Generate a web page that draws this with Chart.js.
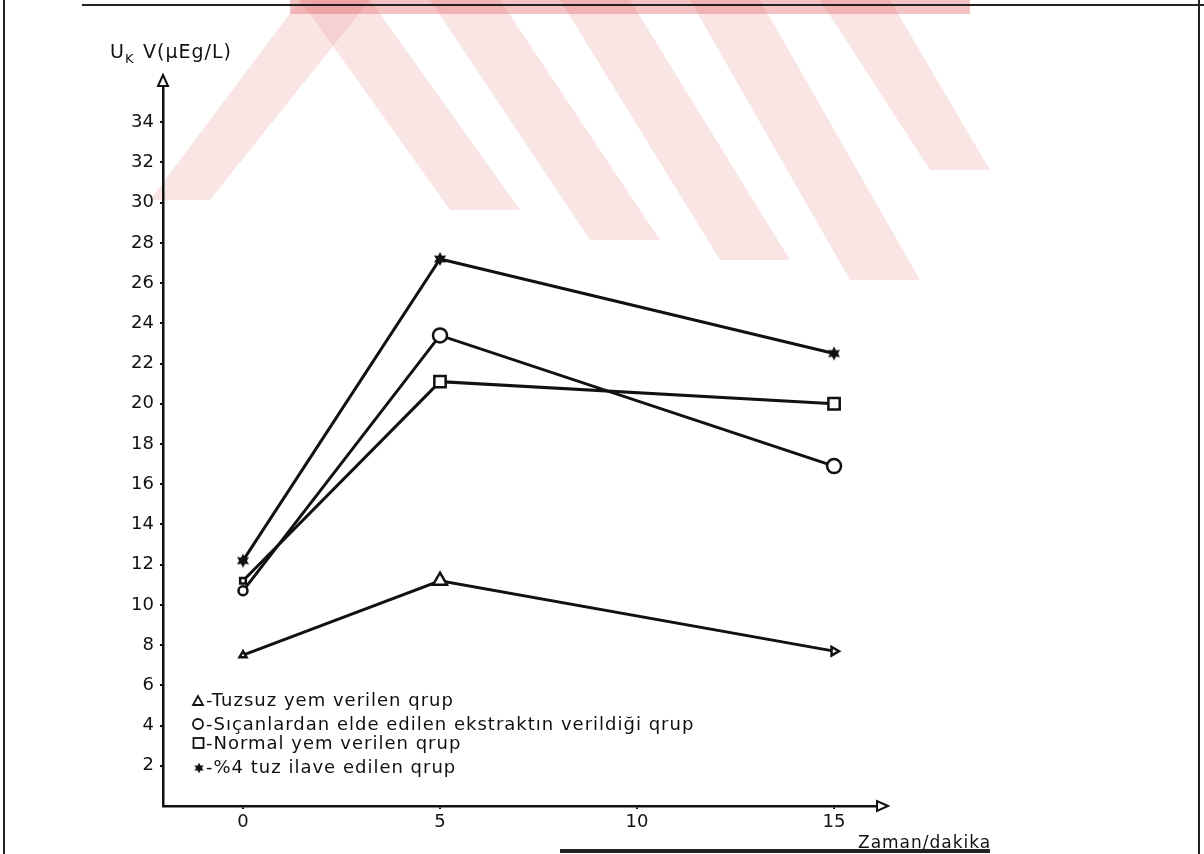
<!DOCTYPE html>
<html>
<head>
<meta charset="utf-8">
<script src="https://cdn.jsdelivr.net/npm/chart.js@4/dist/chart.umd.min.js"></script>
<style>
    html, body { margin: 0; padding: 0; background: #fff; }
    #wrap { width: 1204px; height: 854px; position: relative; }
</style>
</head>
<body>
<div id="wrap"><canvas id="chart"></canvas></div>
<script>
// Dati
const xValues = [0, 5, 15];
const tuzsuz = [7.5, 11.2, 7.7];
const sicanlar = [10.7, 23.4, 16.9];
const normal = [11.2, 21.1, 20.0];
const tuzIlave = [12.2, 27.2, 22.5];
const yTicks = [2, 4, 6, 8, 10, 12, 14, 16, 18, 20, 22, 24, 26, 28, 30, 32, 34];
const xTicks = [0, 5, 10, 15];
const legendTexts = [
    '-Tuzsuz yem verilen qrup',
    '-Sıçanlardan elde edilen ekstraktın verildiği qrup',
    '-Normal yem verilen qrup',
    '-%4 tuz ilave edilen qrup'
];
const yTitle = 'V(μEg/L)';
const xTitle = 'Zaman/dakika';

const FONT = 'DejaVu Sans';

// Stella piena a sei punte
function makeStar(r) {
    const c = document.createElement('canvas');
    c.width = c.height = r * 2 + 2;
    const g = c.getContext('2d');
    g.fillStyle = '#111';
    g.beginPath();
    for (let i = 0; i < 12; i++) {
        const a = -Math.PI / 2 + i * Math.PI / 6;
        const rr = i % 2 === 0 ? r : r * 0.55;
        g.lineTo(r + 1 + rr * Math.cos(a), r + 1 + rr * Math.sin(a));
    }
    g.closePath();
    g.fill();
    return c;
}
const starImg = makeStar(7);

function toPoints(arr) {
    return xValues.map((x, i) => ({ x: x, y: arr[i] }));
}

// Filigrana, cornice, assi, legenda
const decorPlugin = {
    id: 'decor',
    beforeDraw(chart) {
        const ctx = chart.ctx;
        ctx.save();
        ctx.fillStyle = '#fff';
        ctx.fillRect(0, 0, chart.width, chart.height);
        // filigrana rosa
        ctx.fillStyle = 'rgba(236, 150, 150, 0.25)';
        const stripes = [
            [[300, 0], [370, 0], [210, 200], [150, 200]],
            [[300, 0], [370, 0], [520, 210], [450, 210]],
            [[430, 0], [500, 0], [660, 240], [590, 240]],
            [[560, 0], [630, 0], [790, 260], [720, 260]],
            [[690, 0], [760, 0], [920, 280], [850, 280]],
            [[820, 0], [890, 0], [990, 170], [930, 170]]
        ];
        stripes.forEach(p => {
            ctx.beginPath();
            p.forEach((q, i) => i ? ctx.lineTo(q[0], q[1]) : ctx.moveTo(q[0], q[1]));
            ctx.closePath();
            ctx.fill();
        });
        ctx.fillStyle = 'rgba(220, 60, 60, 0.3)';
        ctx.fillRect(290, 0, 680, 14);
        // cornice della scansione
        ctx.strokeStyle = '#222';
        ctx.lineWidth = 2;
        ctx.beginPath();
        ctx.moveTo(4, 0); ctx.lineTo(4, 854);
        ctx.moveTo(1199, 0); ctx.lineTo(1199, 854);
        ctx.moveTo(82, 5); ctx.lineTo(1204, 5);
        ctx.stroke();
        ctx.lineWidth = 4;
        ctx.beginPath();
        ctx.moveTo(560, 851); ctx.lineTo(990, 851);
        ctx.stroke();
        ctx.restore();
    },
    afterDraw(chart) {
        const ctx = chart.ctx;
        const a = chart.chartArea;
        ctx.save();
        ctx.strokeStyle = '#111';
        ctx.fillStyle = '#fff';
        ctx.lineWidth = 2;
        // freccia asse y
        ctx.beginPath();
        ctx.moveTo(a.left, a.top - 11);
        ctx.lineTo(a.left - 5, a.top);
        ctx.lineTo(a.left + 5, a.top);
        ctx.closePath();
        ctx.fill(); ctx.stroke();
        // freccia asse x
        ctx.beginPath();
        ctx.moveTo(a.right + 11, a.bottom);
        ctx.lineTo(a.right, a.bottom - 5);
        ctx.lineTo(a.right, a.bottom + 5);
        ctx.closePath();
        ctx.fill(); ctx.stroke();

        // titoli assi
        ctx.fillStyle = '#111';
        ctx.textBaseline = 'alphabetic';
        ctx.letterSpacing = '1px';
        ctx.font = '19px ' + FONT;
        ctx.fillText('U', 110, 58);
        ctx.font = '13px ' + FONT;
        ctx.fillText('K', 125, 63);
        ctx.font = '19px ' + FONT;
        ctx.fillText(yTitle, 143, 58);
        ctx.font = '17px ' + FONT;
        ctx.fillText(xTitle, 858, 848);

        // legenda
        const lx = 193;
        const ly = [706, 730, 749, 773];
        ctx.font = '18px ' + FONT;
        ctx.lineWidth = 1.8;
        ctx.strokeStyle = '#111';
        // triangolo
        ctx.beginPath();
        ctx.moveTo(lx + 5, ly[0] - 10); ctx.lineTo(lx, ly[0] - 1); ctx.lineTo(lx + 10, ly[0] - 1);
        ctx.closePath(); ctx.stroke();
        // cerchio
        ctx.beginPath();
        ctx.arc(lx + 5, ly[1] - 6, 5, 0, Math.PI * 2); ctx.stroke();
        // quadrato
        ctx.strokeRect(lx + 0.5, ly[2] - 11, 10, 10);
        // stella
        ctx.drawImage(starImg, lx, ly[3] - 11, 12, 12);
        legendTexts.forEach((t, i) => ctx.fillText(t, lx + 13, ly[i]));
        ctx.restore();
    }
};

const pointCommon = {
    borderColor: '#111',
    backgroundColor: '#fff',
    borderWidth: 3,
    pointBorderWidth: 2.5,
    pointBackgroundColor: '#fff',
    pointBorderColor: '#111',
    tension: 0
};

new Chart(document.getElementById('chart'), {
    type: 'line',
    data: {
        datasets: [
            Object.assign({}, pointCommon, {
                label: legendTexts[0],
                data: toPoints(tuzsuz),
                pointStyle: 'triangle',
                pointRadius: [4, 8, 5],
                pointRotation: [0, 0, 90]
            }),
            Object.assign({}, pointCommon, {
                label: legendTexts[1],
                data: toPoints(sicanlar),
                pointStyle: 'circle',
                pointRadius: [4.5, 7, 7]
            }),
            Object.assign({}, pointCommon, {
                label: legendTexts[2],
                data: toPoints(normal),
                pointStyle: 'rect',
                pointRadius: [4, 8, 8]
            }),
            Object.assign({}, pointCommon, {
                label: legendTexts[3],
                data: toPoints(tuzIlave),
                pointStyle: starImg,
                pointRadius: 7
            })
        ]
    },
    options: {
        responsive: true,
        maintainAspectRatio: false,
        animation: false,
        layout: { padding: { top: 86, right: 327, bottom: 0, left: 0 } },
        plugins: {
            legend: { display: false },
            tooltip: { enabled: false }
        },
        scales: {
            x: {
                type: 'linear',
                min: -2.03,
                max: 16.09,
                afterBuildTicks: (s) => { s.ticks = xTicks.map(v => ({ value: v })); },
                afterFit: (s) => { s.height = 48; },
                grid: { drawOnChartArea: false, drawTicks: true, tickLength: 3, color: '#111', lineWidth: 2 },
                border: { color: '#111', width: 2.5 },
                ticks: { color: '#111', padding: 3, font: { family: FONT, size: 18 } }
            },
            y: {
                min: 0,
                max: 35.8,
                afterBuildTicks: (s) => { s.ticks = yTicks.map(v => ({ value: v })); },
                afterFit: (s) => { s.width = 163; },
                grid: { drawOnChartArea: false, drawTicks: true, tickLength: 3, color: '#111', lineWidth: 2 },
                border: { color: '#111', width: 2.5 },
                ticks: { color: '#111', padding: 6, font: { family: FONT, size: 18 } }
            }
        }
    },
    plugins: [decorPlugin]
});
</script>
</body>
</html>
